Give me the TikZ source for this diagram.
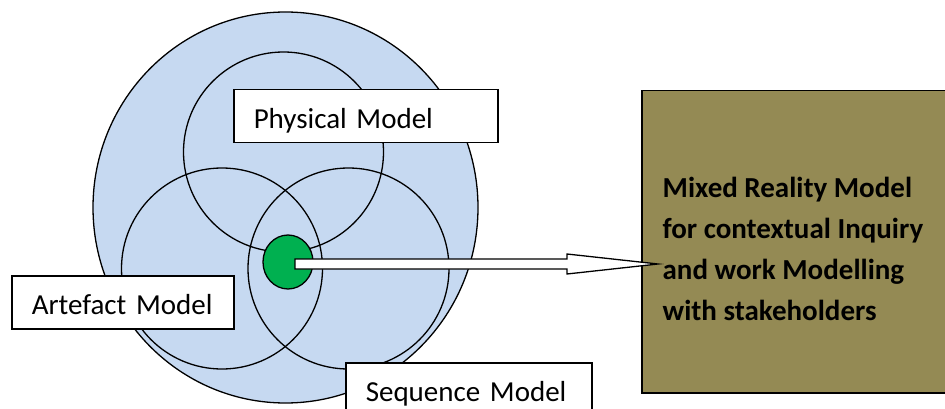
\documentclass[tikz,border=0pt]{standalone}
\usepackage{fontspec}
\setmainfont{Carlito}
\usetikzlibrary{shapes.geometric,calc}
\definecolor{ringblue}{HTML}{C6D9F1}
\definecolor{coregreen}{HTML}{00B050}
\definecolor{olivebox}{HTML}{948A54}
\begin{document}
\begin{tikzpicture}[x=1pt, y=-1pt, line width=1.3pt,
  ring/.style={draw=black},
  labelbox/.style={draw=black, fill=white, line width=1.5pt, anchor=north west,
    minimum height=53pt, inner xsep=20pt, inner ysep=0pt,
    text height=25pt, text depth=0pt, align=left,
    font=\fontsize{29}{35}\selectfont},
]
\clip (0,0) rectangle (945,409);
\fill[white] (0,0) rectangle (945,409);

% outer model space
\node[ring, fill=ringblue, ellipse, inner sep=0pt,
      minimum width=385pt, minimum height=391pt] (space) at (285.5,207.5) {};

% the three overlapping model circles
\node[ring, circle, inner sep=0pt, minimum size=200pt] (physical) at (283.5,152) {};
\node[ring, circle, inner sep=0pt, minimum size=201pt] (artefact) at (222,268.5) {};
\node[ring, circle, inner sep=0pt, minimum size=201pt] (sequence) at (348.5,268.5) {};

% shared core
\node[draw=black, fill=coregreen, ellipse, inner sep=0pt,
      minimum width=50pt, minimum height=54pt] (core) at (288,262) {};

% result box
\node[draw=black, fill=olivebox, line width=1.5pt, anchor=north west,
      minimum width=330pt, minimum height=302pt] (mixed) at (641,90) {};
\node[anchor=north west, inner sep=0pt, align=left,
      font=\fontsize{29}{40.7}\selectfont\bfseries] (mixedtext) at (662,177)
  {Mixed Reality Model\\for contextual Inquiry\\and work Modelling\\with stakeholders};

% block arrow from the core to the result box
\coordinate (tail) at (295,264);
\coordinate (tip) at (658,264);
\draw[fill=white, line join=miter]
  ($(tail)+(0,-5)$) -- (567,259) -- (567,254) -- (tip) -- (567,274)
  -- (567,269) -- ($(tail)+(0,5)$) -- cycle;

% model labels
\node[labelbox, text width=224pt] (physlabel) at (233,89) {Physical Model};
\node[labelbox, text width=182pt] (artlabel) at (11,275) {Artefact Model};
\node[labelbox, text width=206pt] (seqlabel) at (345,362) {Sequence Model};
\end{tikzpicture}
\end{document}
